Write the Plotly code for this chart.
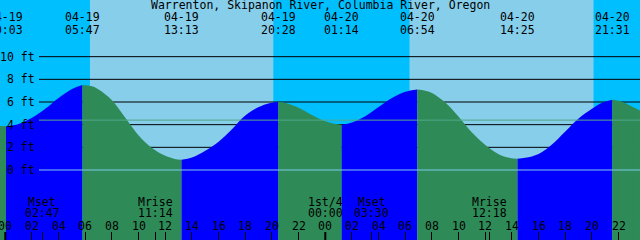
import plotly.graph_objects as go

W, H = 640, 240
FONT = "DejaVu Sans Mono"
FS = 11.5

TITLE = "Warrenton, Skipanon River, Columbia River, Oregon"
DAYS = ["04-19", "04-20"]          # hour 0 = 04-19 00:00

# tide extremes
EXTREME_DATES = ["04-19", "04-19", "04-19", "04-19", "04-20", "04-20", "04-20", "04-20"]
EXTREME_TIMES = ["00:03", "05:47", "13:13", "20:28", "01:14", "06:54", "14:25", "21:31"]
EXTREME_FT = [3.85, 7.5, 0.9, 6.0, 4.0, 7.1, 1.0, 6.2]

# tide readings between extremes (hours after 04-19 00:00, feet)
READ_HOURS = [-0.4, 1, 2, 3, 4, 5, 6.5, 7, 8, 9, 10, 11, 12, 12.7,
              14, 15, 16, 17, 18, 19, 19.8, 21, 22, 23, 24, 24.7,
              26, 27, 28, 29, 30, 31.5, 32, 33, 34, 35, 36, 37, 37.8,
              39, 40, 41, 42, 43, 44, 44.8, 46, 46.6, 47, 47.6]
READ_FT = [3.88, 4.05, 4.6, 5.4, 6.35, 7.15, 7.38, 7.1, 6.15, 4.6, 3.05, 1.95, 1.25, 0.98,
           1.1, 1.7, 2.5, 3.6, 4.8, 5.55, 5.9, 5.92, 5.5, 4.85, 4.3, 4.07,
           4.2, 4.75, 5.55, 6.35, 6.9, 7.0, 6.8, 5.95, 4.7, 3.3, 2.2, 1.4, 1.07,
           1.08, 1.42, 2.25, 3.4, 4.55, 5.4, 5.95, 6.12, 5.85, 5.6, 5.25]

SUNRISE = ["04-19 06:21", "04-20 06:19"]
SUNSET = ["04-19 20:06", "04-20 20:07"]

MOON_LABELS = ["Mset", "Mrise", "1st/4", "Mset", "Mrise"]
MOON_TIMES = ["04-19 02:47", "04-19 11:14", "04-20 00:00", "04-20 03:30", "04-20 12:18"]

Y_TICKS = [0, 2, 4, 6, 8, 10]
MSL_FT = 4.4
HOUR_TICKS = list(range(0, 50, 2))

NIGHT = "#00BFFF"
DAY = "#87CEEB"
FLOOD = "#0000FF"
EBB = "#2E8B57"
DATUM = "#7FC8EE"
MSL = "#52A88A"

X_RANGE = [-5.3 / 13.3333, (W - 5.3) / 13.3333]
Y_RANGE = [-70 / 11.333, 170 / 11.333]


def to_hours(date, hm):
    h, m = hm.split(":")
    return DAYS.index(date) * 24 + int(h) + int(m) / 60


def dt_hours(s):
    d, t = s.split(" ")
    return to_hours(d, t)


ext_h = [to_hours(d, t) for d, t in zip(EXTREME_DATES, EXTREME_TIMES)]
pts = sorted(list(zip(READ_HOURS, READ_FT)) + list(zip(ext_h, EXTREME_FT)))

bounds = [pts[0][0]] + ext_h + [pts[-1][0]]
fig = go.Figure()
base = Y_RANGE[0] - 1
for a, b in zip(bounds[:-1], bounds[1:]):
    seg = [p for p in pts if a <= p[0] <= b]
    xs = [p[0] for p in seg]
    ys = [p[1] for p in seg]
    color = FLOOD if ys[-1] > ys[0] else EBB
    fig.add_trace(go.Scatter(x=[a, b], y=[base, base], mode="lines",
                             line=dict(width=0), hoverinfo="skip", showlegend=False))
    fig.add_trace(go.Scatter(x=xs, y=ys, mode="lines",
                             line=dict(width=0, shape="spline", color=color),
                             fill="tonexty", fillcolor=color,
                             hoverinfo="skip", showlegend=False))

shapes = []
for sr, ss in zip(SUNRISE, SUNSET):
    shapes.append(dict(type="rect", xref="x", yref="paper", x0=dt_hours(sr), x1=dt_hours(ss),
                       y0=0, y1=1, fillcolor=DAY, line=dict(width=0), layer="below"))
for v in Y_TICKS[1:]:
    shapes.append(dict(type="line", xref="paper", yref="y", x0=39 / W, x1=1, y0=v, y1=v,
                       line=dict(color="black", width=1), layer="below"))
shapes.append(dict(type="line", xref="paper", yref="y", x0=39 / W, x1=1, y0=Y_TICKS[0], y1=Y_TICKS[0],
                   line=dict(color=DATUM, width=1), layer="above"))
shapes.append(dict(type="line", xref="paper", yref="y", x0=39 / W, x1=1, y0=MSL_FT, y1=MSL_FT,
                   line=dict(color=MSL, width=1), layer="above"))
for i, d in enumerate(DAYS + ["04-21"]):
    shapes.append(dict(type="line", xref="x", yref="paper", x0=i * 24, x1=i * 24,
                       y0=0, y1=8 / H, line=dict(color="black", width=2), layer="above"))

ann = []


def text(x, py, s, xref="x", xanchor="center"):
    ann.append(dict(x=x, y=1 - py / H, xref=xref, yref="paper", text=s, showarrow=False,
                    xanchor=xanchor, yanchor="middle",
                    font=dict(family=FONT, size=FS, color="black")))


text(0.5, 5, TITLE, xref="paper")
for d, t, h in zip(EXTREME_DATES, EXTREME_TIMES, ext_h):
    text(h, 17, d)
    text(h, 29.5, t)
for lab, t in zip(MOON_LABELS, MOON_TIMES):
    h = dt_hours(t)
    text(h, 201.5, lab)
    text(h, 213.3, t.split(" ")[1])
for h in HOUR_TICKS:
    text(h, 225.5, "%02d" % (h % 24))
for v in Y_TICKS:
    ann.append(dict(x=37 / W, y=v, xref="paper", yref="y", text="%d ft" % v, showarrow=False,
                    xanchor="right", yanchor="middle",
                    font=dict(family=FONT, size=FS, color="black")))

fig.update_layout(
    width=W, height=H, autosize=False,
    margin=dict(l=0, r=0, t=0, b=0),
    paper_bgcolor=NIGHT, plot_bgcolor=NIGHT,
    shapes=shapes, annotations=ann, showlegend=False,
    xaxis=dict(range=X_RANGE, showgrid=False, zeroline=False, showline=False,
               ticks="inside", ticklen=8, tickwidth=1, tickcolor="black",
               tickvals=HOUR_TICKS + [dt_hours(t) for t in MOON_TIMES],
               showticklabels=False, fixedrange=True),
    yaxis=dict(range=Y_RANGE, showgrid=False, zeroline=False, showline=False,
               showticklabels=False, ticks="", fixedrange=True),
)
fig.write_html("out.html", config={"displayModeBar": False})
